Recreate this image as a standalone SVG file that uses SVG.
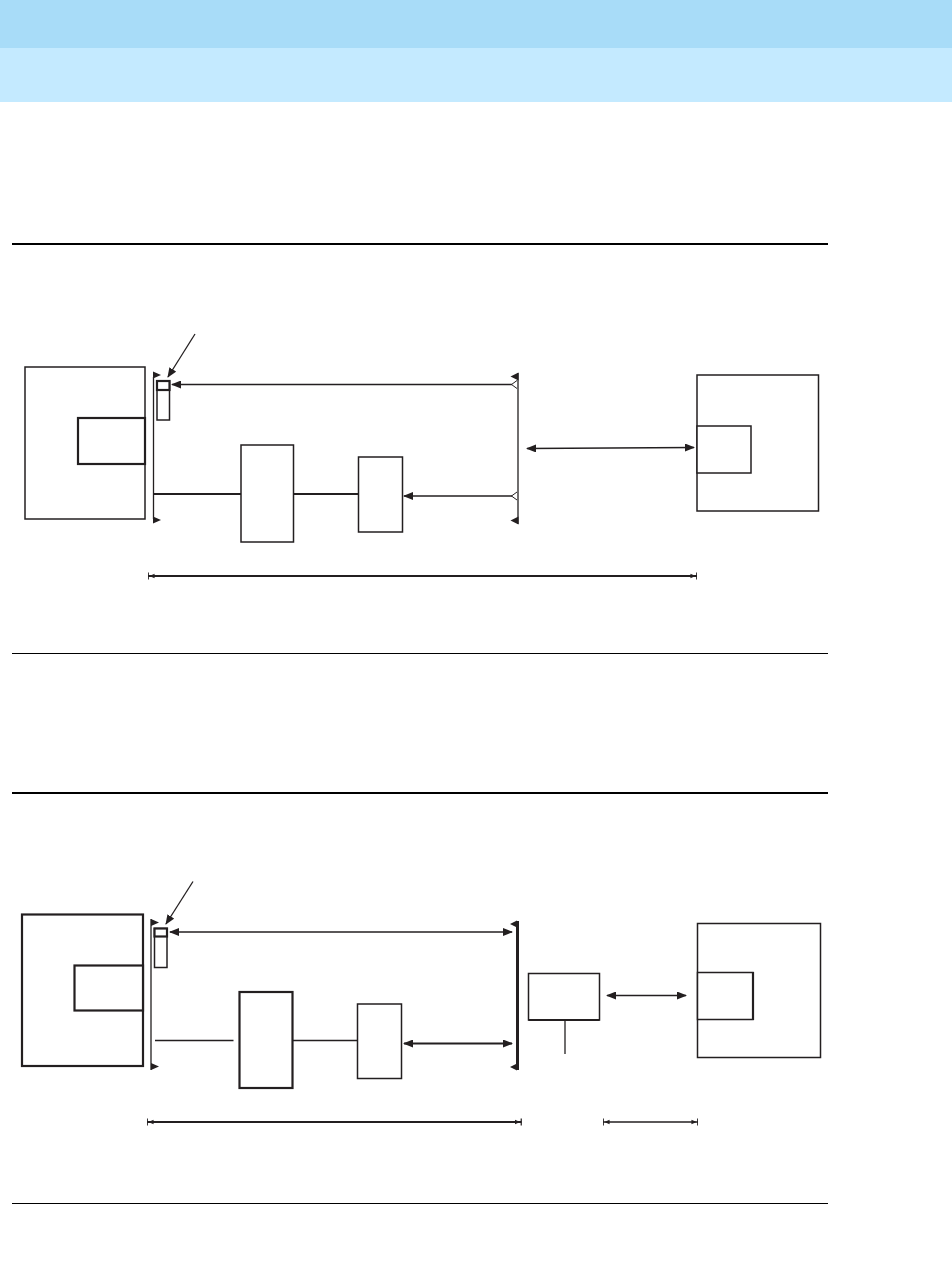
<svg xmlns="http://www.w3.org/2000/svg" width="952" height="1271" viewBox="0 0 952 1271">
<style>
.b{fill:#fff;stroke:#231f20;stroke-width:1.5}
.bt{fill:#fff;stroke:#231f20;stroke-width:2.2}
.l{stroke:#231f20;stroke-width:1.3;fill:none}
.lt{stroke:#231f20;stroke-width:2.2;fill:none}
.tri{fill:#231f20}
.ch{stroke:#231f20;stroke-width:1;fill:none}
</style>
<defs>
<marker id="ah" viewBox="0 0 10 8" refX="9" refY="4" markerWidth="10" markerHeight="8" markerUnits="userSpaceOnUse" orient="auto-start-reverse"><path d="M0,0 L10,4 L0,8 Z" fill="#231f20"/></marker>
<marker id="dm" viewBox="0 0 8 8" refX="7.5" refY="4" markerWidth="7" markerHeight="8" markerUnits="userSpaceOnUse" orient="auto-start-reverse"><path d="M0,1.5 L6,4 L0,6.5 Z" fill="#231f20"/><path d="M7.2,0 V8" stroke="#231f20" stroke-width="1.4"/></marker>
</defs>
<rect x="0" y="0" width="952" height="48" fill="#a8dcf8"/>
<rect x="0" y="48" width="952" height="54" fill="#c4eaff"/>
<g id="rules">
<line x1="12" y1="244" x2="828" y2="244" stroke="#000" stroke-width="2.2"/>
<line x1="12" y1="653.5" x2="828" y2="653.5" stroke="#000" stroke-width="1"/>
<line x1="12" y1="793" x2="828" y2="793" stroke="#000" stroke-width="2.2"/>
<line x1="12" y1="1203.5" x2="828" y2="1203.5" stroke="#000" stroke-width="1"/>
</g>
<!-- Diagram 1 -->
<g id="d1-left">
<rect class="b" x="25" y="367" width="120" height="152"/>
<rect class="bt" x="78" y="418" width="67" height="46"/>
</g>
<g id="d1-bar">
<line class="l" x1="153.5" y1="377" x2="153.5" y2="519"/>
<path class="tri" d="M153,371.5 L161,375 L153,378.5 Z"/>
<path class="tri" d="M153,516.5 L161,520 L153,523.5 Z"/>
</g>
<g id="d1-small">
<rect class="b" x="157" y="381" width="12.5" height="39"/>
<rect class="bt" x="157" y="381" width="12.5" height="9"/>
</g>
<g id="d1-box1"><rect class="b" x="241" y="445" width="52.5" height="97"/></g>
<g id="d1-box2"><rect class="b" x="358.5" y="457" width="44" height="75"/></g>
<g id="d1-rbar">
<line class="l" x1="518" y1="373" x2="518" y2="524"/>
<path class="tri" d="M518.5,372.5 L510.5,376.5 L518.5,380.5 Z"/>
<path class="tri" d="M518.5,516.5 L510.5,520.5 L518.5,524.5 Z"/>
</g>
<g id="d1-right">
<rect class="b" x="697" y="375" width="121.5" height="136"/>
<rect class="b" x="697" y="426" width="54" height="47"/>
</g>
<g id="d1-connectors">
<line class="l" x1="195" y1="334" x2="168" y2="377" marker-end="url(#ah)"/>
<line class="l" x1="512" y1="384.5" x2="172" y2="384.5" marker-end="url(#ah)"/>
<polyline class="ch" points="517,380.5 511.5,384.5 517,388.5"/>
<line class="lt" x1="153.5" y1="494" x2="241" y2="494"/>
<line class="lt" x1="293.5" y1="494" x2="358.5" y2="494"/>
<line class="l" x1="512" y1="496" x2="404" y2="496" marker-end="url(#ah)"/>
<polyline class="ch" points="517,492 511.5,496 517,500"/>
<line class="l" x1="527" y1="448.5" x2="694" y2="447.5" marker-start="url(#ah)" marker-end="url(#ah)"/>
<line class="lt" x1="148" y1="576" x2="697" y2="576" marker-start="url(#dm)" marker-end="url(#dm)"/>
</g>
<!-- Diagram 2 -->
<g id="d2-left">
<rect class="bt" x="22" y="914.5" width="121" height="151.5"/>
<rect class="bt" x="74.5" y="965.5" width="68.5" height="45"/>
</g>
<g id="d2-bar">
<line class="l" x1="151" y1="919" x2="151" y2="1070"/>
<path class="tri" d="M151,919 L159,922.5 L151,926 Z"/>
<path class="tri" d="M151,1063 L159,1066.5 L151,1070 Z"/>
</g>
<g id="d2-small">
<rect class="b" x="154.5" y="928.5" width="12.5" height="39"/>
<rect class="bt" x="154.5" y="928.5" width="12.5" height="8"/>
</g>
<g id="d2-box1"><rect class="bt" x="239.5" y="992" width="53" height="96"/></g>
<g id="d2-box2"><rect class="b" x="357.5" y="1004" width="44" height="74.5"/></g>
<g id="d2-rbar">
<line x1="517.5" y1="921" x2="517.5" y2="1070" stroke="#231f20" stroke-width="3"/>
<path class="tri" d="M517,920.5 L510,924 L517,927.5 Z"/>
<path class="tri" d="M517,1063.5 L510,1067 L517,1070.5 Z"/>
</g>
<g id="d2-box3"><rect class="b" x="528.5" y="973.5" width="71" height="46.5"/>
<line class="lt" x1="528.5" y1="1020" x2="599.5" y2="1020"/></g>
<g id="d2-right">
<rect class="b" x="697.5" y="923.5" width="123" height="134"/>
<rect class="b" x="697.5" y="972.5" width="55.5" height="47"/>
<line class="lt" x1="753" y1="972" x2="753" y2="1020"/>
</g>
<g id="d2-connectors">
<line class="l" x1="193" y1="881.5" x2="166" y2="924" marker-end="url(#ah)"/>
<line class="l" x1="170" y1="932" x2="512" y2="932" marker-start="url(#ah)" marker-end="url(#ah)"/>
<line class="l" x1="155" y1="1040.5" x2="233.5" y2="1040.5"/>
<line class="l" x1="292.5" y1="1040.5" x2="357.5" y2="1040.5"/>
<line class="lt" x1="404" y1="1043.5" x2="512" y2="1043.5" stroke="#555" marker-start="url(#ah)" marker-end="url(#ah)"/>
<line class="l" x1="565" y1="1020" x2="565" y2="1054"/>
<line class="l" x1="607" y1="995.5" x2="686" y2="995.5" marker-start="url(#ah)" marker-end="url(#ah)"/>
<line class="lt" x1="147" y1="1122" x2="521.5" y2="1122" marker-start="url(#dm)" marker-end="url(#dm)"/>
<line class="l" x1="603" y1="1122" x2="698" y2="1122" marker-start="url(#dm)" marker-end="url(#dm)"/>
</g>
</svg>
